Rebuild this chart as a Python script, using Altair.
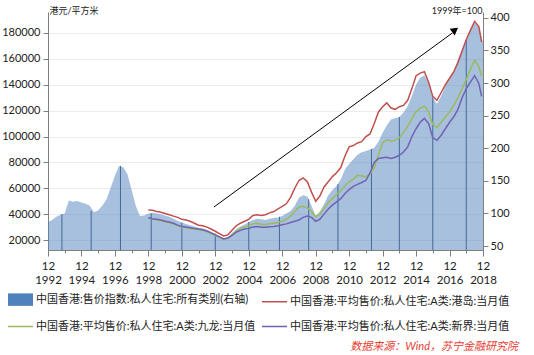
import altair as alt
import pandas as pd

FONT = "Lato, 'Noto Sans CJK SC', sans-serif"

series_names = [
    "中国香港:售价指数:私人住宅:所有类别(右轴)",
    "中国香港:平均售价:私人住宅:A类:港岛:当月值",
    "中国香港:平均售价:私人住宅:A类:九龙:当月值",
    "中国香港:平均售价:私人住宅:A类:新界:当月值",
]
series_colors = ["#4f81bd", "#c0504d", "#9bbb59", "#7262b3"]

# quarterly dates for the price index (right axis, 1999=100)
index_dates = ["1992-12"] + [f"{y}-{m:02d}" for y in range(1993, 2019) for m in (3, 6, 9, 12)]
index_values = [
    87,
    90, 95, 98, 100,
    120, 118, 119, 117,
    115, 112, 102, 105,
    112, 122, 140, 158,
    173, 171, 160, 136,
    112, 96, 97, 100,
    101, 100, 99, 97,
    95, 92, 89, 86,
    84, 82, 80, 78,
    77, 75, 72, 69,
    66, 62, 64, 70,
    76, 80, 83, 87,
    90, 92, 91, 90,
    92, 93, 94, 96,
    100, 104, 112, 124,
    128, 126, 112, 96,
    103, 114, 128, 136,
    142, 152, 168, 176,
    183, 190, 194, 196,
    198, 201, 210, 224,
    235, 244, 246, 248,
    255, 265, 280, 298,
    308, 312, 300, 278,
    268, 280, 296, 306,
    318, 336, 352, 366,
    382, 392, 386, 362,
]

# quarterly dates for the average prices (left axis, HKD / sq m)
line_dates = (["1998-12"]
              + [f"{y}-{m:02d}" for y in range(1999, 2018) for m in (3, 6, 9, 12)]
              + ["2018-03", "2018-06", "2018-09", "2018-11"])
hk_island = [
    43200,
    43000, 42000, 41500, 40500,
    39500, 38500, 37500, 36000,
    35500, 34500, 33000, 31500,
    31000, 30000, 28500, 26800,
    25000, 23200, 24000, 27500,
    31000, 33000, 34500, 36000,
    39000, 39500, 39000, 39500,
    41000, 42000, 44000, 46000,
    48000, 53000, 60000, 66000,
    68000, 65000, 57000, 50000,
    54000, 61000, 65000, 69000,
    72000, 76000, 85000, 92000,
    93000, 95000, 96000, 100000,
    102000, 110000, 119000, 123000,
    126000, 122000, 121000, 123000,
    124000, 128000, 137000, 147000,
    149000, 150000, 142000, 131000,
    128000, 134000, 140000, 145000,
    150000, 157000, 166000, 175000,
    182000, 189000, 185000, 173000,
]
kowloon = [
    37000,
    36300, 35700, 35000, 34200,
    33500, 32500, 31000, 30000,
    29500, 29000, 28500, 28000,
    27500, 26500, 25000, 23500,
    22000, 20500, 21500, 24000,
    27000, 29000, 30000, 31000,
    32500, 33000, 32000, 32000,
    32500, 33000, 33500, 34500,
    36000, 38500, 42000, 45500,
    46000, 45000, 42000, 38000,
    40000, 44500, 49000, 52000,
    55000, 58000, 62000, 65000,
    67000, 70000, 69500, 69000,
    71000, 76000, 86000, 95000,
    97500, 96500, 97000, 99000,
    103000, 108000, 114000, 119000,
    122000, 123500, 119000, 109000,
    107000, 111000, 115000, 119000,
    124000, 130000, 137000, 144000,
    152000, 159000, 154000, 147000,
]
new_territories = [
    37200,
    36500, 36000, 35500, 34500,
    34000, 33000, 31500, 30500,
    30000, 29500, 29000, 28500,
    28000, 27000, 25500, 24000,
    22500, 20800, 21500, 23500,
    26000, 27500, 28500, 29000,
    30000, 30500, 29800, 29800,
    30200, 30500, 31000, 31800,
    32500, 33500, 34500, 35500,
    37500, 38500, 37500, 34500,
    36000, 40000, 44000, 47000,
    49500, 52000, 56000, 59000,
    61500, 63000, 64500, 66000,
    72000, 80000, 83000, 83500,
    84000, 83000, 84000, 85500,
    88000, 92000, 100000, 106000,
    111000, 114000, 110000, 99000,
    97000, 101000, 106000, 111000,
    115000, 121000, 130000, 137000,
    142000, 147000, 141000, 131000,
]

# darker bars inside the index area
vline_dates = ["1993-10", "1995-07", "1997-04", "1999-02", "2000-12", "2002-12", "2004-12",
               "2006-10", "2008-07", "2010-04", "2012-04", "2013-12", "2015-12", "2017-12"]
vline_tops = [99, 104, 173, 100, 86, 69, 87, 95, 122, 145, 199, 248, 278, 366]

# trend arrow (left axis units)
arrow_dates = ["2002-11", "2017-02"]
arrow_values = [45500, 180000]
arrow_head_date = ["2017-04"]
arrow_head_value = [182300]

left_ticks = [20000, 40000, 60000, 80000, 100000, 120000, 140000, 160000, 180000]
right_ticks = [50, 100, 150, 200, 250, 300, 350, 400]
x_tick_years = list(range(1992, 2019))

source_text = "数据来源：Wind，苏宁金融研究院"

assert len(index_dates) == len(index_values)
assert len(line_dates) == len(hk_island) == len(kowloon) == len(new_territories)

df_idx = pd.DataFrame({"date": index_dates, "value": index_values})
df_lines = pd.concat([
    pd.DataFrame({"date": line_dates, "value": vals, "series": name})
    for name, vals in zip(series_names[1:], [hk_island, kowloon, new_territories])
])
df_vl = pd.DataFrame({"date": vline_dates, "value": vline_tops})
df_arrow = pd.DataFrame({"date": arrow_dates, "value": arrow_values})
df_head = pd.DataFrame({"date": arrow_head_date, "value": arrow_head_value})
df_leg = pd.DataFrame({"series": series_names})

AXC = "#7f7f7f"

x_enc = alt.X(
    "date:T",
    scale=alt.Scale(type="utc",
                    domain=[alt.DateTime(year=1992, month=12, date=1, utc=True),
                            alt.DateTime(year=2018, month=12, date=1, utc=True)]),
    axis=alt.Axis(
        values=[alt.DateTime(year=y, month=12, date=1, utc=True) for y in x_tick_years],
        labelExpr="utcyear(datum.value) % 2 === 0 ? ['12', '' + utcyear(datum.value)] : ''",
        tickSize={"condition": {"test": "utcyear(datum.value) % 2 === 0", "value": 6}, "value": 3},
        title=None, grid=False, labelFont=FONT, labelFontSize=11.5, labelLineHeight=14,
        labelPadding=4, labelOverlap=False, labelFlush=False, labelColor="#222",
        domainColor=AXC, tickColor=AXC,
    ),
)

left_y = alt.Y(
    "value:Q",
    scale=alt.Scale(domain=[12300, 196200], nice=False, zero=False),
    axis=alt.Axis(
        orient="left", values=left_ticks, format="d", title="港元/平方米",
        titleAngle=0, titleAlign="left", titleBaseline="alphabetic", titleX=1, titleY=1,
        titleFont=FONT, titleFontSize=9, titleFontWeight="normal", titleColor="#222",
        labelFont=FONT, labelFontSize=11, labelColor="#222", labelPadding=3, tickSize=5,
        domainColor=AXC, tickColor=AXC, grid=True, gridColor="#ececec",
    ),
)

right_y = alt.Y(
    "value:Q",
    scale=alt.Scale(domain=[44, 409], nice=False, zero=False),
    axis=alt.Axis(
        orient="right", values=right_ticks, title="1999年=100",
        titleAngle=0, titleAlign="right", titleBaseline="alphabetic", titleX=-1, titleY=1,
        titleFont=FONT, titleFontSize=9, titleFontWeight="normal", titleColor="#222",
        labelFont=FONT, labelFontSize=11, labelColor="#222", labelPadding=2, tickSize=5,
        domainColor=AXC, tickColor=AXC, grid=False,
    ),
)

RECT = "M-1,-0.5H1V0.5H-1Z"
THIN = "M-1,-0.06H1V0.06H-1Z"

# legend entries are laid out column by column: order so rows read as in the reference
legend_order = [series_names[0], series_names[2], series_names[1], series_names[3]]
legend_colors = [series_colors[0], series_colors[2], series_colors[1], series_colors[3]]
legend_shapes = [RECT, THIN, THIN, THIN]

legend = alt.Legend(
    orient="none", legendX=-41, legendY=274, columns=2, title=None,
    symbolSize=625, symbolOpacity=1, labelFont=FONT, labelFontSize=11,
    labelColor="#222", labelLimit=400, labelOffset=2, columnPadding=3, rowPadding=4,
    padding=0,
)

area = alt.Chart(df_idx).mark_area(color=series_colors[0], fillOpacity=0.5, clip=True).encode(
    x=x_enc, y=right_y,
)
rules = alt.Chart(df_vl).mark_rule(color="#41699c", strokeWidth=1, clip=True).encode(
    x=x_enc, y=right_y, y2=alt.datum(44),
)
lines = alt.Chart(df_lines).mark_line(strokeWidth=1.5).encode(
    x=x_enc, y=left_y,
    color=alt.Color("series:N", scale=alt.Scale(domain=series_names[1:], range=series_colors[1:]),
                    legend=None),
)
arrow = alt.Chart(df_arrow).mark_line(color="black", strokeWidth=1).encode(x=x_enc, y=left_y)
head = alt.Chart(df_head).mark_point(shape="triangle-up", angle=53.8, filled=True, color="black",
                                     size=70, opacity=1).encode(x=x_enc, y=left_y)

legend_layer = alt.Chart(df_leg).mark_point(filled=True, opacity=1, strokeWidth=0).encode(
    fill=alt.Fill("series:N", scale=alt.Scale(domain=legend_order, range=legend_colors), legend=legend),
    shape=alt.Shape("series:N", scale=alt.Scale(domain=legend_order, range=legend_shapes), legend=legend),
).transform_filter("false")

right_group = alt.layer(area, rules)
left_group = alt.layer(lines, arrow, head, legend_layer)

chart = alt.layer(right_group, left_group).resolve_scale(y="independent").properties(
    width=435, height=238,
    padding={"left": 48, "top": 12, "right": 51, "bottom": 105},
    autosize=alt.AutoSizeParams(type="none"),
    title=alt.TitleParams(
        text=source_text, orient="bottom", anchor="end", frame="group", dx=35, offset=9,
        font=FONT, fontSize=11, fontStyle="italic", fontWeight="normal", color="#e63c2f",
    ),
    background="white",
).configure_view(stroke=None)

chart.save("out.html", embed_options={"renderer": "svg", "actions": False})
